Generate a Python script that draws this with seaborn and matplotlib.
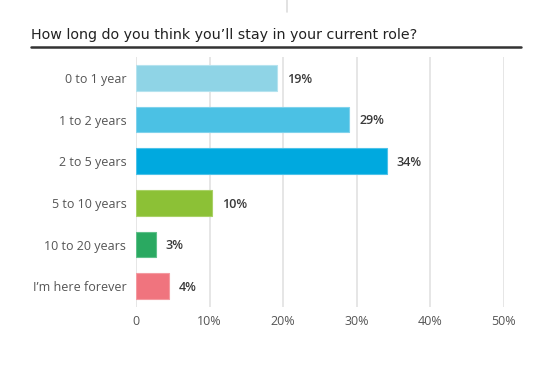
import pandas as pd
import matplotlib.pyplot as plt
import matplotlib.lines as mlines
import seaborn as sns

categories = ["0 to 1 year", "1 to 2 years", "2 to 5 years", "5 to 10 years",
              "10 to 20 years", "I\u2019m here forever"]
shares = [19.2, 29.0, 34.1, 10.3, 2.7, 4.5]
labels = ["19%", "29%", "34%", "10%", "3%", "4%"]
colors = ["#8fd4e6", "#4bc1e4", "#00a9df", "#8cc136", "#2aa961", "#f0747e"]
edges = ["#b5e3ef", "#7fd2ec", "#4dc2e8", "#a9d166", "#5fc08a", "#f49aa1"]
xticks = [0, 10, 20, 30, 40, 50]
xticklabels = ["0", "10%", "20%", "30%", "40%", "50%"]


def main():
    df = pd.DataFrame({"cat": categories, "share": shares})

    sns.set_style("white")
    plt.rcParams["font.family"] = ["Open Sans", "DejaVu Sans"]

    fig = plt.figure(figsize=(5.54, 3.77), dpi=100)
    ax = fig.add_axes([136 / 554, 70 / 377, 368 / 554, 250 / 377])

    sns.barplot(data=df, x="share", y="cat", hue="cat", palette=colors,
                saturation=1, legend=False, width=0.62, ax=ax, zorder=3)
    for p, ec in zip(ax.patches, edges):
        p.set_edgecolor(ec)
        p.set_linewidth(0.8)

    for p, lab in zip(ax.patches, labels):
        ax.annotate(lab, (p.get_width(), p.get_y() + p.get_height() / 2),
                    xytext=(7, -1), textcoords="offset points",
                    ha="left", va="center", fontsize=9,
                    fontweight="semibold", color="#3a3a3a")

    ax.set_xlim(0, 50)
    ax.set_ylim(5.5, -0.5)
    ax.set_xticks(xticks)
    ax.set_xticklabels(xticklabels)
    ax.xaxis.grid(True, color="#e2e2e2", linewidth=1.2, zorder=0)
    ax.set_axisbelow(True)
    ax.tick_params(axis="x", length=0, pad=6, labelsize=9, labelcolor="#555555")
    ax.tick_params(axis="y", length=0, pad=7, labelsize=9, labelcolor="#555555")
    ax.set_xlabel("")
    ax.set_ylabel("")
    sns.despine(ax=ax, left=True, bottom=True)

    fig.text(31 / 554, 1 - 35 / 377,
             "How long do you think you\u2019ll stay in your current role?",
             fontsize=10.3, color="#222222",
             ha="left", va="center", family=["DejaVu Sans"])
    fig.add_artist(mlines.Line2D([31 / 554, 521 / 554], [1 - 46.5 / 377, 1 - 46.5 / 377],
                                 color="#333333", linewidth=1.8))
    # faint divider left over from the page above
    fig.add_artist(mlines.Line2D([287 / 554, 287 / 554], [1, 1 - 12 / 377],
                                 color="#dddddd", linewidth=1.2))

    fig.savefig("out.png", dpi=100)


if __name__ == "__main__":
    main()
